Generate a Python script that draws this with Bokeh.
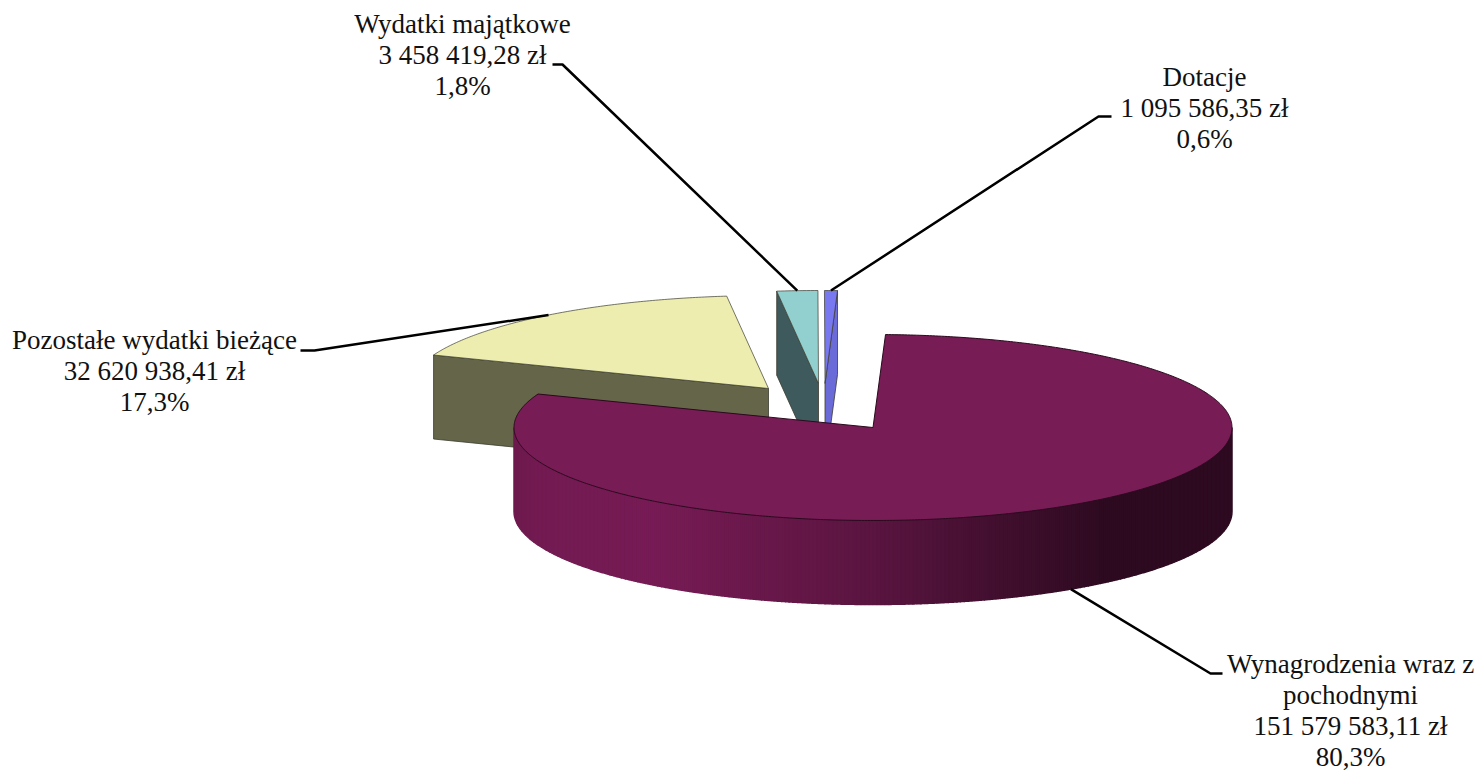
import numpy as np
from bokeh.embed import file_html
from bokeh.models import Range1d
from bokeh.plotting import figure
from bokeh.resources import INLINE
from bokeh.core.properties import value

# --- data ---
CATEGORIES = ["Wynagrodzenia wraz z pochodnymi", "Pozostałe wydatki bieżące",
              "Wydatki majątkowe", "Dotacje"]
AMOUNTS = [151579583.11, 32620938.41, 3458419.28, 1095586.35]

# --- layout and style ---
NAME_LINES = [["Wynagrodzenia wraz z", "pochodnymi"], ["Pozostałe wydatki bieżące"],
              ["Wydatki majątkowe"], ["Dotacje"]]
LABEL_X = [1350, 154, 462, 1204]
LABEL_Y = [663, 339, 23, 76]
LINE_STEP = 31
ELBOWS = [[(1210, 673), (1222, 673)], [(314, 350), (300, 350)],
          [(562, 64), (552, 64)], [(1098, 116), (1111, 116)]]
CENTERS = [(872.5, 427), (768, 388), (818, 383), (824.5, 383)]
TOP = ["#771c55", "#ecedae", "#92cfcf", "#7878f0"]
SIDE = ["#771c55", "#656549", "#3f5a5c", "#6a6ad8"]
RX, RY, DEPTH, START = 359, 93, 84, 2.0

W, H = 1479, 771
p = figure(width=W, height=H, output_backend="svg", toolbar_location=None,
           x_range=Range1d(0, W), y_range=Range1d(H, 0),
           x_axis_type=None, y_axis_type=None, min_border=0, outline_line_color=None)
p.grid.visible = False
p.background_fill_color = "white"
p.border_fill_color = "white"

total = sum(AMOUNTS)
sweeps = [a / total * 360 for a in AMOUNTS]
starts = [START + sum(sweeps[:i]) for i in range(len(sweeps))]


def rim(c, deg, dz=0):
    t = np.radians(deg)
    return c[0] + RX * np.sin(t), c[1] - RY * np.cos(t) + dz


def wedge(c, a0, a1):
    th = np.linspace(a0, a1, max(3, int(abs(a1 - a0)) * 2))
    x, y = rim(c, th)
    return [c[0], *x], [c[1], *y]


EDGE = "#3c3c30"
# back slices first, main slice on top
for i in (1, 2, 3):
    c, a0, a1 = CENTERS[i], starts[i], starts[i] + sweeps[i]
    edge_deg = a0 if i != 3 else a1
    ex, ey = rim(c, edge_deg)
    p.patch([ex, c[0], c[0], ex], [ey, c[1], c[1] + DEPTH, ey + DEPTH],
            fill_color=SIDE[i], line_color=EDGE, line_width=1, line_alpha=0.8)
    wx, wy = wedge(c, a0, a1)
    p.patch(wx, wy, fill_color=TOP[i], line_color=EDGE, line_width=1, line_alpha=0.7)

# main slice: outer wall with shading, in bands of even on-screen width
c = CENTERS[0]
a0, a1 = starts[0], starts[0] + sweeps[0]
edges = np.degrees(np.arcsin(np.linspace(-1, 1, 181)))  # -90 .. 90 across the width
base = np.array([0x77, 0x1c, 0x55])
xl, xr = c[0] - RX, c[0] + RX
for e0, e1 in zip(edges[:-1], edges[1:]):
    u, v = 180 - e0, 180 - e1  # left to right along the front rim
    th = np.linspace(u, v, 6)
    x, y = rim(c, th)
    t = ((x[0] + x[-1]) / 2 - xl) / (xr - xl)
    f = np.interp(t, [0, 0.03, 0.2, 0.5, 0.83, 1], [0.92, 0.96, 1, 0.76, 0.38, 0.38])
    col = "#%02x%02x%02x" % tuple(int(k) for k in base * f)
    p.patch([*x, *x[::-1]], [*y, *(y[::-1] + DEPTH)],
            fill_color=col, line_color=col, line_width=1.5)
wx, wy = wedge(c, a0, a1)
p.patch(wx, wy, fill_color=TOP[0], line_color="#2a0a1e", line_width=1)

# leader lines, from the middle of each slice's rim
for i in range(4):
    mid = starts[i] + sweeps[i] / 2
    dz = DEPTH if i == 0 else 0
    ex, ey = rim(CENTERS[i], mid, dz)
    xs = [ex] + [e[0] for e in ELBOWS[i]]
    ys = [ey] + [e[1] for e in ELBOWS[i]]
    p.line(xs, ys, line_color="black", line_width=2.5)

# labels
for i in range(4):
    amount = f"{AMOUNTS[i]:,.2f}".replace(",", " ").replace(".", ",") + " zł"
    pct = f"{AMOUNTS[i] / total * 100:.1f}".replace(".", ",") + "%"
    lines = NAME_LINES[i] + [amount, pct]
    ys = [LABEL_Y[i] + k * LINE_STEP for k in range(len(lines))]
    p.text([LABEL_X[i]] * len(lines), ys, text=lines, text_align="center",
           text_baseline="middle", text_color="#111111",
           text_font=value("Liberation Serif"), text_font_size="27px")

open("out.html", "w").write(file_html(p, INLINE))
